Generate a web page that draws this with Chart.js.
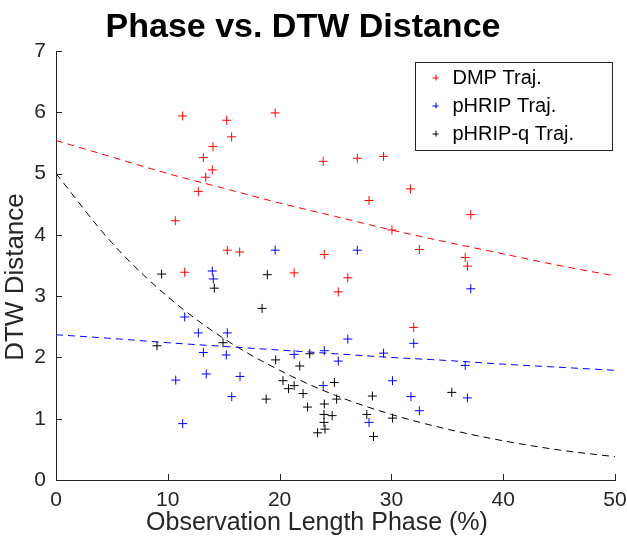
<!DOCTYPE html>
<html>
<head>
<meta charset="utf-8">
<script src="https://cdn.jsdelivr.net/npm/chart.js@4.4.1/dist/chart.umd.min.js"></script>
<style>
  html, body { margin: 0; padding: 0; background: #fff; }
</style>
</head>
<body>
<canvas id="chart" width="627" height="545"></canvas>
<script>
// DMP trajectories (red)
const dmpX = [11.33, 15.27, 19.6, 15.71, 14.04, 13.18, 13.98, 13.39, 12.73, 10.67, 23.9, 26.95, 29.3, 31.7,
  28.0, 30.05, 37.1, 32.5, 36.6, 36.8, 15.32, 16.43, 24.0, 11.51, 21.3, 26.1, 25.25, 32.0];
const dmpY = [5.94, 5.87, 5.99, 5.60, 5.44, 5.26, 5.06, 4.94, 4.71, 4.23, 5.20, 5.25, 5.28, 4.75,
  4.56, 4.08, 4.33, 3.76, 3.63, 3.49, 3.75, 3.72, 3.68, 3.39, 3.38, 3.30, 3.07, 2.49];

// pHRIP trajectories (blue)
const hripX = [19.6, 26.95, 13.98, 14.07, 37.1, 11.51, 12.73, 15.32, 26.1, 32.0, 13.18, 15.23, 21.3, 24.0,
  29.3, 25.25, 36.6, 13.44, 10.71, 16.46, 30.1, 23.9, 15.72, 31.75, 36.8, 32.5, 11.33, 28.0];
const hripY = [3.75, 3.75, 3.41, 3.28, 3.12, 2.66, 2.40, 2.40, 2.30, 2.23, 2.08, 2.04, 2.05, 2.11,
  2.07, 1.94, 1.87, 1.73, 1.63, 1.69, 1.62, 1.54, 1.36, 1.36, 1.34, 1.13, 0.92, 0.94];

// pHRIP-q trajectories (black)
const hripqX = [9.45, 18.9, 14.16, 18.43, 14.94, 9.03, 22.7, 19.65, 21.8, 20.3, 20.8, 21.3, 24.9, 22.1,
  18.8, 25.1, 28.3, 35.4, 22.5, 24.0, 23.97, 24.7, 27.8, 30.1, 23.97, 24.06, 23.4, 28.4];
const hripqY = [3.36, 3.35, 3.13, 2.80, 2.24, 2.19, 2.06, 1.96, 1.86, 1.62, 1.49, 1.54, 1.59, 1.41,
  1.32, 1.32, 1.37, 1.43, 1.19, 1.24, 1.07, 1.05, 1.07, 1.01, 0.94, 0.83, 0.77, 0.71];

const fitX = [0, 5, 10, 15, 20, 25, 30, 35, 40, 45, 50];
const dmpFit = [5.54, 5.27, 5.00, 4.76, 4.52, 4.30, 4.08, 3.88, 3.69, 3.50, 3.33];
const hripFit = [2.37, 2.31, 2.24, 2.18, 2.12, 2.06, 2.00, 1.95, 1.89, 1.84, 1.79];
const hripqFit = [5.00, 3.87, 2.99, 2.31, 1.79, 1.38, 1.07, 0.83, 0.64, 0.49, 0.38];

const xTicks = [0, 10, 20, 30, 40, 50];
const yTicks = [0, 1, 2, 3, 4, 5, 6, 7];

const titleText = 'Phase vs. DTW Distance';
const xTitle = 'Observation Length Phase (%)';
const yTitle = 'DTW Distance';
const axisColor = '#262626';
const font = 'Liberation Sans, Arial, Helvetica, sans-serif';

const pts = (xs, ys) => xs.map((x, i) => ({ x: x, y: ys[i] }));

function scatterSet(label, xs, ys, color) {
  return {
    label: label,
    data: pts(xs, ys),
    pointStyle: 'cross',
    pointRadius: 4.5,
    pointBorderWidth: 1,
    borderColor: color,
    backgroundColor: color,
    showLine: false
  };
}

function fitSet(ys, color) {
  return {
    label: '_fit',
    data: pts(fitX, ys),
    showLine: true,
    borderColor: color,
    borderWidth: 1,
    borderDash: [7, 5],
    pointRadius: 0,
    tension: 0.4,
    cubicInterpolationMode: 'monotone',
    fill: false
  };
}

// titles, inward tick marks and the legend box, matlab style
const matlabBits = {
  id: 'matlabBits',
  afterDraw(c) {
    const ctx = c.ctx, xs = c.scales.x, ys = c.scales.y, area = c.chartArea;
    ctx.save();

    ctx.fillStyle = '#000';
    ctx.font = 'bold 34px ' + font;
    ctx.textAlign = 'center';
    ctx.textBaseline = 'alphabetic';
    ctx.fillText(titleText, 303, 37);

    ctx.fillStyle = axisColor;
    ctx.font = '25px ' + font;
    ctx.textBaseline = 'middle';
    ctx.fillText(xTitle, 317, 523);
    ctx.save();
    ctx.translate(16, 277);
    ctx.rotate(-Math.PI / 2);
    ctx.font = '26px ' + font;
    ctx.fillText(yTitle, 0, 0);
    ctx.restore();
    ctx.textAlign = 'left';

    ctx.strokeStyle = axisColor;
    ctx.lineWidth = 1;
    ctx.beginPath();
    xTicks.forEach(v => {
      const px = Math.round(xs.getPixelForValue(v)) + 0.5;
      ctx.moveTo(px, area.bottom);
      ctx.lineTo(px, area.bottom - 6);
    });
    yTicks.forEach(v => {
      const py = Math.round(ys.getPixelForValue(v)) + 0.5;
      ctx.moveTo(area.left, py);
      ctx.lineTo(area.left + 6, py);
    });
    ctx.stroke();

    // legend
    const sets = c.data.datasets.filter(d => d.label !== '_fit');
    const bx = 415.5, by = 62.5, bw = 197, bh = 88, rowH = 28;
    ctx.fillStyle = '#fff';
    ctx.fillRect(bx, by, bw, bh);
    ctx.strokeStyle = axisColor;
    ctx.strokeRect(bx, by, bw, bh);
    ctx.font = '20px ' + font;
    ctx.textBaseline = 'middle';
    sets.forEach((d, i) => {
      const cy = by + 15 + i * rowH;
      const mx = bx + 20;
      ctx.strokeStyle = d.borderColor;
      ctx.beginPath();
      ctx.moveTo(mx - 3, cy + 0.5); ctx.lineTo(mx + 3, cy + 0.5);
      ctx.moveTo(mx + 0.5, cy - 3); ctx.lineTo(mx + 0.5, cy + 3);
      ctx.stroke();
      ctx.fillStyle = '#000';
      ctx.fillText(d.label, bx + 37, cy + 1);
    });
    ctx.restore();
  }
};

new Chart(document.getElementById('chart'), {
  type: 'scatter',
  data: {
    datasets: [
      scatterSet('DMP Traj.', dmpX, dmpY, '#ff0000'),
      scatterSet('pHRIP Traj.', hripX, hripY, '#0000ff'),
      scatterSet('pHRIP-q Traj.', hripqX, hripqY, '#000000'),
      fitSet(dmpFit, '#ff0000'),
      fitSet(hripFit, '#0000ff'),
      fitSet(hripqFit, '#000000')
    ]
  },
  options: {
    responsive: false,
    animation: false,
    layout: { padding: { left: 0, right: 0, top: 51, bottom: 0 } },
    plugins: {
      legend: { display: false },
      tooltip: { enabled: false },
      title: { display: false }
    },
    scales: {
      x: {
        type: 'linear',
        min: 0, max: 50,
        afterBuildTicks: s => { s.ticks = xTicks.map(v => ({ value: v })); },
        afterFit: s => { s.height = 65; s.paddingRight = 12; s.paddingLeft = 0; },
        grid: { display: false, drawTicks: false },
        border: { display: true, color: axisColor, width: 1 },
        ticks: { color: axisColor, font: { family: font, size: 21 }, padding: 8, maxRotation: 0 },
        title: { display: false }
      },
      y: {
        type: 'linear',
        min: 0, max: 7,
        afterBuildTicks: s => { s.ticks = yTicks.map(v => ({ value: v })); },
        afterFit: s => { s.width = 56; s.paddingTop = 0; s.paddingBottom = 0; },
        grid: { display: false, drawTicks: false },
        border: { display: true, color: axisColor, width: 1 },
        ticks: { color: axisColor, font: { family: font, size: 21 }, padding: 10 },
        title: { display: false }
      }
    }
  },
  plugins: [matlabBits]
});
</script>
</body>
</html>
